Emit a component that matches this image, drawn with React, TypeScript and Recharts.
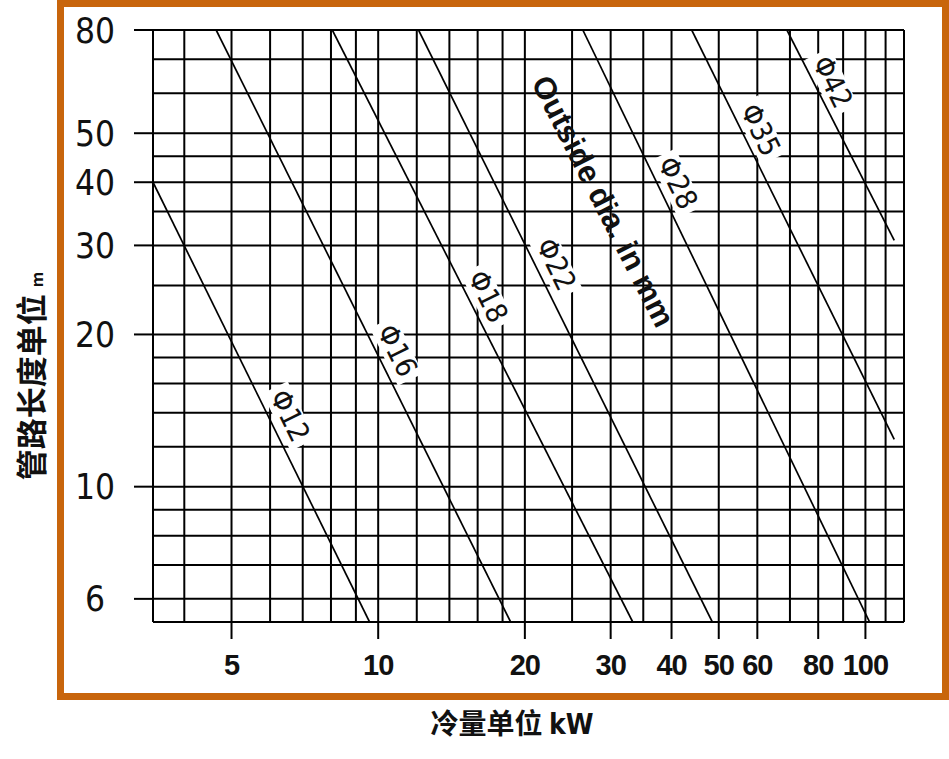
import React from 'react'
import { ComposedChart, Line, XAxis, YAxis, CartesianGrid, ReferenceDot } from 'recharts'

// grid values (log-log chart)
const kwGrid = [4, 5, 6, 7, 8, 9, 10, 12, 14, 16, 18, 20, 25, 30, 35, 40, 50, 60, 70, 80, 90, 100, 110, 120]
const kwLabeled = [5, 10, 20, 30, 40, 50, 60, 80, 100]
const mGrid = [6, 7, 8, 9, 10, 12, 14, 16, 18, 20, 25, 30, 35, 40, 45, 50, 60, 70, 80]
const mLabeled = [6, 10, 20, 30, 40, 50, 80]

// pipe lines, start / end points
const pipes = ['Φ12', 'Φ16', 'Φ18', 'Φ22', 'Φ28', 'Φ35', 'Φ42']
const startKw = [3.45, 4.65, 8.05, 12.1, 26.3, 44, 69]
const startM = [40, 80, 80, 80, 80, 80, 80]
const endKw = [9.6, 18.7, 33.3, 48.5, 102, 114.6, 114.6]
const endM = [5.4, 5.4, 5.4, 5.4, 5.4, 12.4, 30.7]
// where each diameter label sits on its line
const labelKw = [6.08, 10.1, 15.5, 21.4, 38, 56.2, 79]
const labelM = [13.3, 17.9, 22.9, 26.5, 38.4, 48.9, 60.8]

const NARROW = "'Liberation Sans Narrow', 'DejaVu Sans Condensed', sans-serif"
const CJK = "'Noto Sans CJK SC', sans-serif"

const XTick = (props: any) => {
  const { x, y, payload } = props
  if (!kwLabeled.includes(payload.value)) return <g />
  return (
    <g>
      <line x1={x} y1={y - 17} x2={x} y2={y} stroke="#000" strokeWidth={2} />
      <text x={x} y={y + 36} textAnchor="middle" fontFamily="'Liberation Sans', Arial, sans-serif"
        fontWeight="bold" fontSize={29} letterSpacing={-1} fill="#111">
        {payload.value}
      </text>
    </g>
  )
}

const YTick = (props: any) => {
  const { x, y, payload } = props
  if (!mLabeled.includes(payload.value)) return <g />
  return (
    <g>
      <line x1={x} y1={y} x2={x + 19} y2={y} stroke="#000" strokeWidth={2} />
      <text x={x - 39} y={y} dy="0.36em" textAnchor="middle" fontFamily={NARROW} fontSize={35} fill="#111">
        {payload.value}
      </text>
    </g>
  )
}

const pipeLabel = (text: string) => (props: any) => {
  const { cx, cy } = props
  return (
    <g transform={`translate(${cx},${cy}) rotate(64)`}>
      <rect x={-32} y={-32} width={64} height={28} fill="#fff" />
      <text x={0} y={-9} textAnchor="middle" fontFamily={NARROW} fontSize={29} fill="#111">{text}</text>
    </g>
  )
}

const outsideLabel = (props: any) => {
  const { cx, cy } = props
  return (
    <g transform={`translate(${cx},${cy}) rotate(63)`}>
      <text x={0} y={0} dy="0.35em" textAnchor="middle" fontFamily="'Liberation Sans', Arial, sans-serif"
        fontWeight="bold" fontSize={31} fill="#111">Outside dia. in mm</text>
    </g>
  )
}

export default function App() {
  return (
    <div style={{ position: 'absolute', left: 0, top: 0, width: 949, height: 759, background: '#fff' }}>
      <div style={{
        position: 'absolute', left: 57, top: 0, width: 892, height: 700,
        border: '7px solid #C8650C', boxSizing: 'border-box'
      }} />
      <div style={{ position: 'absolute', left: 0, top: 0 }}>
        <ComposedChart width={949} height={759} margin={{ top: 30, right: 45, bottom: 0, left: 0 }}>
          <CartesianGrid stroke="#000" strokeWidth={2} fill="none" />
          <XAxis type="number" dataKey="kw" scale="log" domain={[3.45, 120]} allowDataOverflow
            ticks={kwGrid} interval={0} tick={(p: any) => <XTick {...p} />} tickLine={false}
            tickSize={17} tickMargin={0} height={137}
            axisLine={{ stroke: '#000', strokeWidth: 2 }}
            label={{
              content: () => (
                <text x={512} y={734} textAnchor="middle" fontFamily={CJK} fontWeight="bold" fontSize={28} fill="#111">
                  冷量单位 <tspan fontFamily="'DejaVu Sans Condensed', sans-serif">kW</tspan>
                </text>
              )
            }} />
          <YAxis type="number" dataKey="m" scale="log" domain={[5.4, 80]} allowDataOverflow
            ticks={mGrid} interval={0} tick={(p: any) => <YTick {...p} />} tickLine={false}
            tickSize={19} tickMargin={0} width={153}
            axisLine={{ stroke: '#000', strokeWidth: 2 }}
            label={{
              content: () => (
                <text x={32} y={376} transform="rotate(-90 32 376)" dy="0.35em" textAnchor="middle"
                  fontFamily={CJK} fontWeight="bold" fontSize={31} fill="#111">
                  管路长度单位 <tspan fontSize={16}>m</tspan>
                </text>
              )
            }} />
          {pipes.map((p, i) => (
            <Line key={p} data={[{ kw: startKw[i], m: startM[i] }, { kw: endKw[i], m: endM[i] }]}
              dataKey="m" type="linear" stroke="#000" strokeWidth={1.7} dot={false}
              isAnimationActive={false} legendType="none" />
          ))}
          {pipes.map((p, i) => (
            <ReferenceDot key={'l' + p} x={labelKw[i]} y={labelM[i]} r={0} shape={pipeLabel(p)} />
          ))}
          <ReferenceDot x={29} y={36.7} r={0} shape={outsideLabel} />
        </ComposedChart>
      </div>
    </div>
  )
}
